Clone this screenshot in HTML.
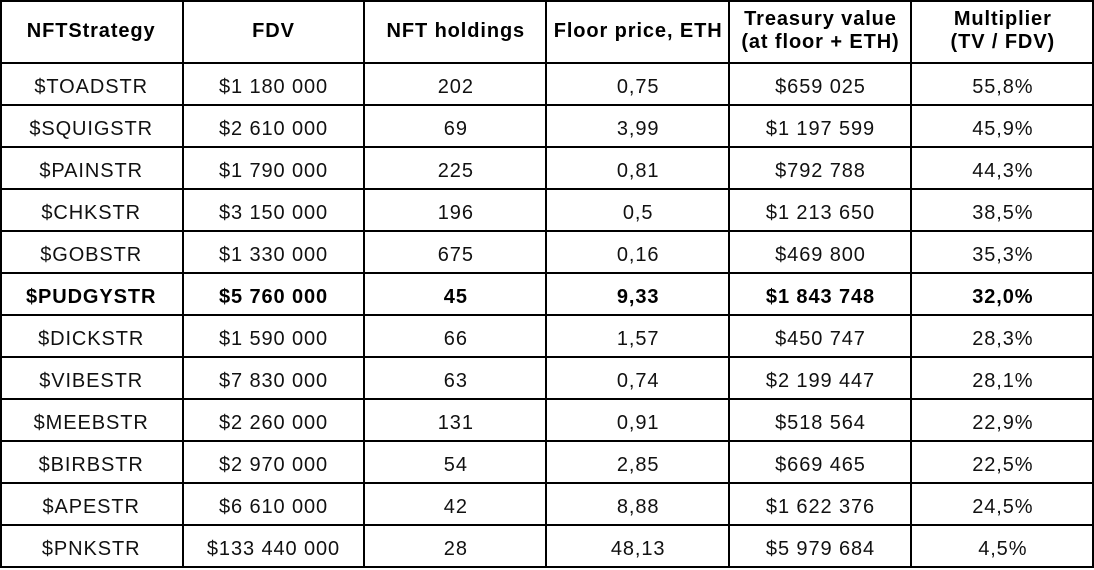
<!DOCTYPE html>
<html>
<head>
<meta charset="utf-8">
<style>
  html, body { margin:0; padding:0; background:#fff; }
  body { width:1094px; height:568px; position:relative; overflow:hidden;
         font-family:"Liberation Sans", Arial, sans-serif; color:#000; }
  .grid { position:absolute; left:0; top:0; width:1094px;
          display:grid; grid-template-columns:repeat(6, 182.333px);
          grid-template-rows:62.5px repeat(12, 42px); }
  .h { display:flex; flex-direction:column; justify-content:center; align-items:center;
       font-weight:bold; font-size:20px; line-height:23px; letter-spacing:0.9px;
       position:relative; top:0px; text-align:center; white-space:nowrap; }
  .c { text-align:center; font-size:20px; line-height:42px; letter-spacing:0.9px;
       position:relative; top:3px; white-space:nowrap; color:#111; }
  .b { font-weight:bold; color:#000; }
  .v { position:absolute; top:0; width:2px; height:568px; background:#000; }
  .hl { position:absolute; left:0; width:1094px; height:2px; background:#000; }
</style>
</head>
<body>
<div class="grid">
  <div class="h"><div>NFTStrategy</div></div>
  <div class="h"><div>FDV</div></div>
  <div class="h"><div>NFT holdings</div></div>
  <div class="h"><div>Floor price, ETH</div></div>
  <div class="h"><div>Treasury value</div><div>(at floor + ETH)</div></div>
  <div class="h"><div>Multiplier</div><div>(TV / FDV)</div></div>

  <div class="c">$TOADSTR</div><div class="c">$1 180 000</div><div class="c">202</div><div class="c">0,75</div><div class="c">$659 025</div><div class="c">55,8%</div>
  <div class="c">$SQUIGSTR</div><div class="c">$2 610 000</div><div class="c">69</div><div class="c">3,99</div><div class="c">$1 197 599</div><div class="c">45,9%</div>
  <div class="c">$PAINSTR</div><div class="c">$1 790 000</div><div class="c">225</div><div class="c">0,81</div><div class="c">$792 788</div><div class="c">44,3%</div>
  <div class="c">$CHKSTR</div><div class="c">$3 150 000</div><div class="c">196</div><div class="c">0,5</div><div class="c">$1 213 650</div><div class="c">38,5%</div>
  <div class="c">$GOBSTR</div><div class="c">$1 330 000</div><div class="c">675</div><div class="c">0,16</div><div class="c">$469 800</div><div class="c">35,3%</div>
  <div class="c b">$PUDGYSTR</div><div class="c b">$5 760 000</div><div class="c b">45</div><div class="c b">9,33</div><div class="c b">$1 843 748</div><div class="c b">32,0%</div>
  <div class="c">$DICKSTR</div><div class="c">$1 590 000</div><div class="c">66</div><div class="c">1,57</div><div class="c">$450 747</div><div class="c">28,3%</div>
  <div class="c">$VIBESTR</div><div class="c">$7 830 000</div><div class="c">63</div><div class="c">0,74</div><div class="c">$2 199 447</div><div class="c">28,1%</div>
  <div class="c">$MEEBSTR</div><div class="c">$2 260 000</div><div class="c">131</div><div class="c">0,91</div><div class="c">$518 564</div><div class="c">22,9%</div>
  <div class="c">$BIRBSTR</div><div class="c">$2 970 000</div><div class="c">54</div><div class="c">2,85</div><div class="c">$669 465</div><div class="c">22,5%</div>
  <div class="c">$APESTR</div><div class="c">$6 610 000</div><div class="c">42</div><div class="c">8,88</div><div class="c">$1 622 376</div><div class="c">24,5%</div>
  <div class="c">$PNKSTR</div><div class="c">$133 440 000</div><div class="c">28</div><div class="c">48,13</div><div class="c">$5 979 684</div><div class="c">4,5%</div>
</div>

<!-- vertical lines -->
<div class="v" style="left:0px"></div>
<div class="v" style="left:181.5px"></div>
<div class="v" style="left:363px"></div>
<div class="v" style="left:545px"></div>
<div class="v" style="left:727.5px"></div>
<div class="v" style="left:910px"></div>
<div class="v" style="left:1092px"></div>

<!-- horizontal lines -->
<div class="hl" style="top:0px"></div>
<div class="hl" style="top:61.5px"></div>
<div class="hl" style="top:103.5px"></div>
<div class="hl" style="top:145.5px"></div>
<div class="hl" style="top:187.5px"></div>
<div class="hl" style="top:229.5px"></div>
<div class="hl" style="top:271.5px"></div>
<div class="hl" style="top:313.5px"></div>
<div class="hl" style="top:355.5px"></div>
<div class="hl" style="top:397.5px"></div>
<div class="hl" style="top:439.5px"></div>
<div class="hl" style="top:481.5px"></div>
<div class="hl" style="top:523.5px"></div>
<div class="hl" style="top:566px"></div>
</body>
</html>
